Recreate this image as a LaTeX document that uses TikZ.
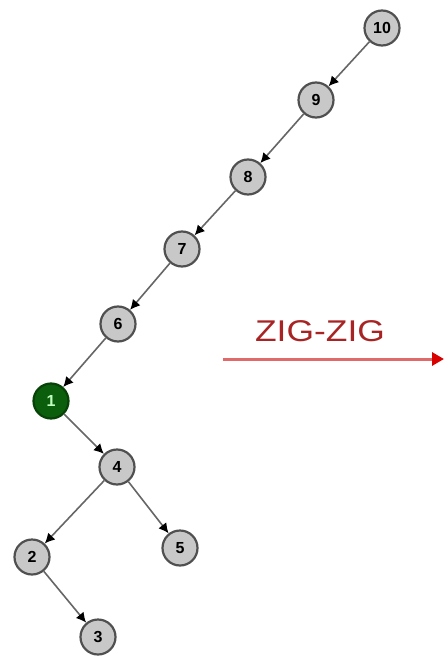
\documentclass[tikz,border=0pt]{standalone}
\usepackage{fontspec}
\setmainfont{Liberation Sans}
\usetikzlibrary{arrows.meta}
\definecolor{nodefill}{HTML}{C8C8C8}
\definecolor{nodeedge}{HTML}{505050}
\definecolor{rootgreen}{HTML}{0B5E0B}
\definecolor{zigred}{HTML}{A82424}
\definecolor{arrowred}{HTML}{E06A6A}
\tikzset{
  treenode/.style={circle, draw=nodeedge, line width=2.2pt, fill=nodefill,
    minimum size=35pt, inner sep=0pt, font=\bfseries\fontsize{16}{16}\selectfont},
  splayed/.style={treenode, fill=rootgreen, draw=rootgreen!70!black, text=green!25!white},
  link/.style={draw=black!60, line width=1.6pt, -{Latex[length=10pt,width=10pt,color=black]}},
  rotation/.style={draw=arrowred, line width=3pt, -{Triangle[length=12pt,width=13pt,color=red!85!black]}}
}
\begin{document}
\begin{tikzpicture}[x=1pt,y=-1pt]
  \useasboundingbox (0,0) rectangle (444,660);
  % the degenerate path before the splay step
  \node[treenode] (n10) at (382,28) {10};
  \node[treenode] (n9) at (316,100) {9};
  \node[treenode] (n8) at (248,177) {8};
  \node[treenode] (n7) at (182,249) {7};
  \node[treenode] (n6) at (118,324) {6};
  \node[splayed] (n1) at (51,401) {1};
  \node[treenode] (n4) at (117,467) {4};
  \node[treenode] (n2) at (32,557) {2};
  \node[treenode] (n5) at (180,548) {5};
  \node[treenode] (n3) at (98,637) {3};
  \draw[link] (n10) -- (n9);
  \draw[link] (n9) -- (n8);
  \draw[link] (n8) -- (n7);
  \draw[link] (n7) -- (n6);
  \draw[link] (n6) -- (n1);
  \draw[link] (n1) -- (n4);
  \draw[link] (n4) -- (n2);
  \draw[link] (n4) -- (n5);
  \draw[link] (n2) -- (n3);
  % the rotation step
  \coordinate (rotA) at (223,359);
  \coordinate (rotB) at (444,359);
  \draw[rotation] (rotA) -- (rotB);
  \node[text=zigred, font=\fontsize{30}{30}\selectfont, xscale=1.18, inner sep=0pt] (rotlabel) at (320,331) {ZIG-ZIG};
\end{tikzpicture}
\end{document}
